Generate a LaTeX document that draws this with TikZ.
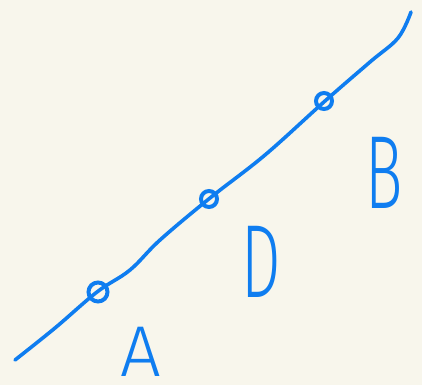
\documentclass[tikz,border=0pt]{standalone}
\usepackage{fontspec}
\setmainfont{Fira Sans Light}
\usetikzlibrary{positioning}
\definecolor{paper}{HTML}{F8F6EC}
\definecolor{ink}{HTML}{0F7DF0}
\begin{document}
\begin{tikzpicture}[
    x=1pt, y=-1pt,
    pen/.style={draw=ink, line width=3.6pt, line cap=round, line join=round},
    dot/.style={circle, draw=ink, line width=4pt, inner sep=0pt, minimum size=16pt},
    letter/.style={text=ink, inner sep=0pt, text depth=0pt, anchor=base, font=\fontsize{72}{72}\selectfont},
    tall/.style={letter, font=\fontsize{104}{104}\selectfont, xscale=0.6}
  ]
  \fill[paper] (0,0) rectangle (422,385);
  \useasboundingbox (0,0) rectangle (422,385);

  % the line
  \draw[pen] plot[smooth, tension=0.6] coordinates {
      (15,360) (55,328) (97,292) (130,270) (160,240)
      (210,198) (265,155) (325,101) (370,62) (398,38) (411,12)};

  % points on it
  \node[dot, minimum size=19pt] (ptA) at (98,292) {};
  \node[dot] (ptD) at (209,199) {};
  \node[dot] (ptB) at (324,101) {};

  % names
  \node[letter] (labA) at (141,376) {A};
  \node[tall] (labD) at (261,297) {D};
  \node[tall] (labB) at (384,208) {B};
\end{tikzpicture}
\end{document}
